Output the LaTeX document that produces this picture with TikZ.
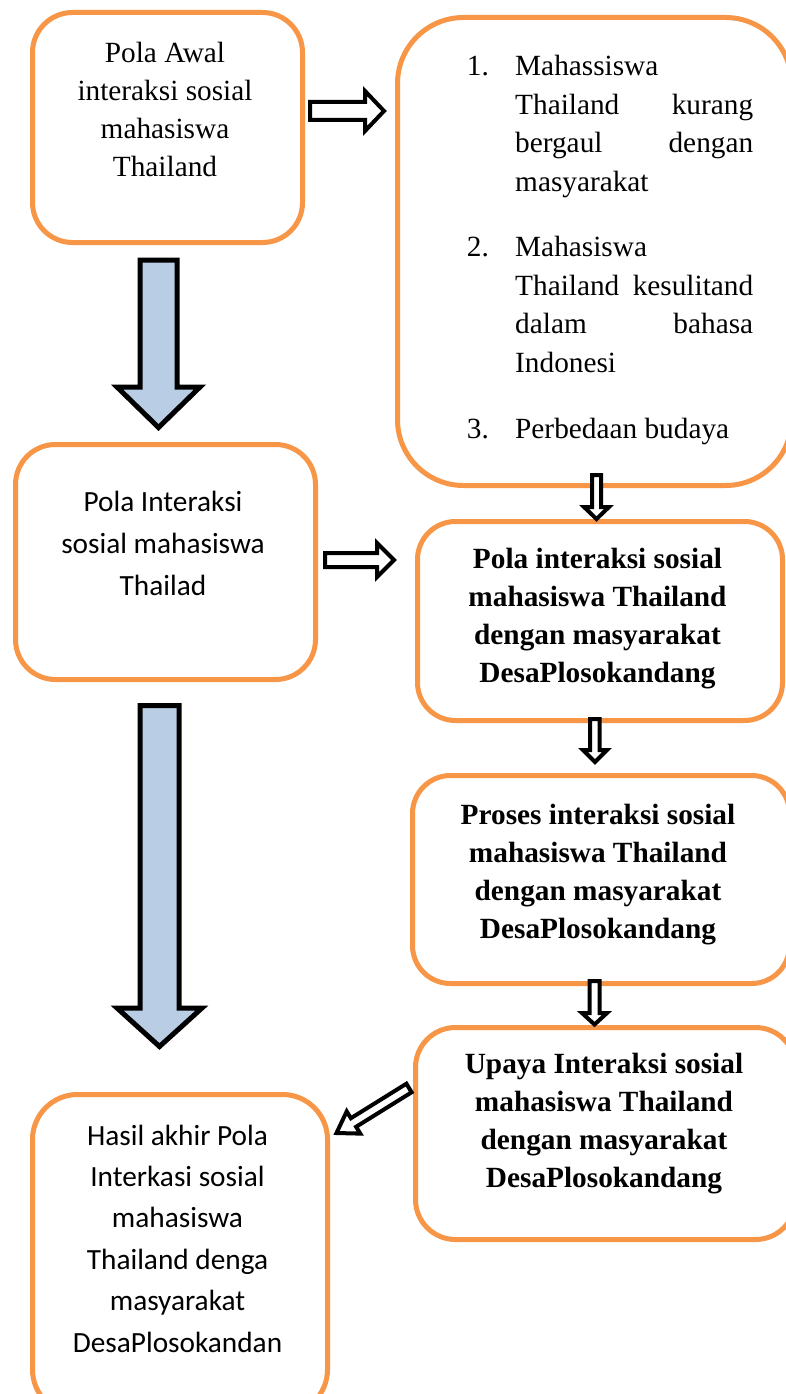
\documentclass[tikz,border=0pt]{standalone}
\usepackage{fontspec}
\setmainfont{Liberation Serif}
\newfontfamily\carlitofont{Carlito}
\definecolor{boxorange}{HTML}{F79646}
\definecolor{arrowblue}{HTML}{B9CDE5}
\tikzset{
  box/.style={draw=boxorange, line width=5pt, fill=white, inner sep=0pt, anchor=north west},
  bigarrow/.style={draw=black, line width=5pt, fill=arrowblue, line join=miter},
  hollowarrow/.style={draw=black, line width=4pt, fill=white, line join=miter},
  txt/.style={inner sep=0pt, anchor=base},
}
\newcommand{\serifsz}{\fontsize{29.3}{38.3}\selectfont}
\begin{document}
\begin{tikzpicture}[x=1pt,y=-1pt]
\useasboundingbox (0,0) rectangle (786,1394);
\clip (0,0) rectangle (786,1394);
\fill[white] (0,0) rectangle (786,1394);

% boxes
\node[box, rounded corners=40pt, minimum width=270pt, minimum height=230pt] (b1) at (30,10) {};
\node[box, rounded corners=66pt, minimum width=394pt, minimum height=468pt] (b2) at (395,15) {};
\node[box, rounded corners=40pt, minimum width=300pt, minimum height=235pt] (b3) at (13,442) {};
\node[box, rounded corners=38pt, minimum width=365pt, minimum height=199pt] (b4) at (415,519) {};
\node[box, rounded corners=38pt, minimum width=377pt, minimum height=208pt] (b5) at (410,773) {};
\node[box, rounded corners=40pt, minimum width=380pt, minimum height=212pt] (b6) at (413,1025) {};
\node[box, rounded corners=45pt, minimum width=295pt, minimum height=320pt] (b7) at (30,1092) {};

% texts
\node[txt] (t1) at (165,62.3) {\parbox[t]{260pt}{\centering\fontsize{29.3}{38.1}\selectfont
  Pola Awal\\interaksi sosial\\mahasiswa\\Thailand}};

\node[inner sep=0pt, anchor=base west] (t2) at (466.7,76) {\parbox[t]{300pt}{\fontsize{29.3}{38.5}\selectfont
  \makebox[48.3pt][l]{1.}Mahassiswa\\
  \hspace*{48.3pt}\makebox[238pt]{Thailand\hfill kurang}\\
  \hspace*{48.3pt}\makebox[238pt]{bergaul\hfill dengan}\\
  \hspace*{48.3pt}masyarakat\\[27pt]
  \makebox[48.3pt][l]{2.}Mahasiswa\\
  \hspace*{48.3pt}\makebox[238pt]{Thailand\hfill kesulitand}\\
  \hspace*{48.3pt}\makebox[238pt]{dalam\hfill bahasa}\\
  \hspace*{48.3pt}Indonesi\\[27pt]
  \makebox[48.3pt][l]{3.}Perbedaan budaya}};

\node[txt] (t3) at (163,511) {\parbox[t]{290pt}{\centering\carlitofont\fontsize{29.3}{42}\selectfont
  Pola Interaksi\\sosial mahasiswa\\Thailad}};

\node[txt] (t4) at (597.5,568) {\parbox[t]{350pt}{\centering\bfseries\serifsz
  Pola interaksi sosial\\mahasiswa Thailand\\dengan masyarakat\\DesaPlosokandang}};

\node[txt] (t5) at (598,824) {\parbox[t]{360pt}{\centering\bfseries\serifsz
  Proses interaksi sosial\\mahasiswa Thailand\\dengan masyarakat\\DesaPlosokandang}};

\node[txt] (t6) at (604,1073) {\parbox[t]{360pt}{\centering\bfseries\serifsz
  Upaya Interaksi sosial\\mahasiswa Thailand\\dengan masyarakat\\DesaPlosokandang}};

\node[txt] (t7) at (177.5,1145) {\parbox[t]{290pt}{\centering\carlitofont\fontsize{29.3}{41.4}\selectfont
  Hasil akhir Pola\\Interkasi sosial\\mahasiswa\\Thailand denga\\masyarakat\\DesaPlosokandan}};

% big blue arrows
\draw[bigarrow] (140,260) -- (177,260) -- (177,387) -- (200,387) -- (158.5,427.5) -- (117,387) -- (140,387) -- cycle;
\draw[bigarrow] (140,705.5) -- (179,705.5) -- (179,1008) -- (202,1008) -- (159.5,1046.5) -- (117,1008) -- (140,1008) -- cycle;

% hollow right arrows
\draw[hollowarrow] (310,102) -- (365,102) -- (365,91) -- (384,111) -- (365,131) -- (365,120) -- (310,120) -- cycle;
\draw[hollowarrow] (325,553) -- (377,553) -- (377,543) -- (394,560) -- (377,577) -- (377,567) -- (325,567) -- cycle;

% hollow small down arrows
\draw[hollowarrow] (592,475) -- (601,475) -- (601,507) -- (609,507) -- (596.5,519) -- (584,507) -- (592,507) -- cycle;
\draw[hollowarrow] (590,719) -- (599.5,719) -- (599.5,750) -- (607,750) -- (595,762) -- (583,750) -- (590,750) -- cycle;
\draw[hollowarrow] (589.5,981) -- (599.5,981) -- (599.5,1013) -- (607,1013) -- (594.5,1024.5) -- (582,1013) -- (589.5,1013) -- cycle;

% diagonal arrow
\draw[hollowarrow] (411.6,1092.3) -- (356.1,1126.8) -- (360.3,1133.6) -- (336.5,1133) -- (346.7,1111.4) -- (350.9,1118.2) -- (406.4,1083.7) -- cycle;
\end{tikzpicture}
\end{document}
